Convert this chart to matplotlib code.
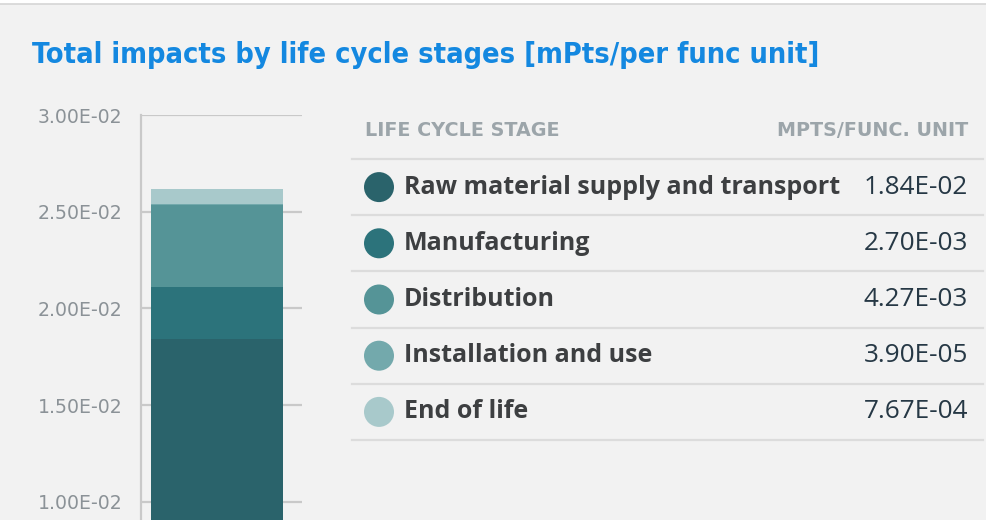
import matplotlib
matplotlib.use("Agg")
from matplotlib import pyplot as plt
from matplotlib.patches import Circle, Rectangle
from matplotlib.lines import Line2D

stages = [
    "Raw material supply and transport",
    "Manufacturing",
    "Distribution",
    "Installation and use",
    "End of life",
]
impacts = [1.84e-02, 2.70e-03, 4.27e-03, 3.90e-05, 7.67e-04]
value_labels = ["1.84E-02", "2.70E-03", "4.27E-03", "3.90E-05", "7.67E-04"]
stage_colours = ["#2a636b", "#2c737b", "#559497", "#73a9ac", "#a8c9cb"]
yticks = [1.0e-02, 1.5e-02, 2.0e-02, 2.5e-02, 3.0e-02]

BG = "#f2f2f2"
W, H = 986, 520
SANS = ["Open Sans", "DejaVu Sans"]


def main():
    fig = plt.figure(figsize=(W / 100, H / 100), dpi=100, facecolor=BG)

    # pixel canvas for title, table and frame decorations
    canvas = fig.add_axes([0, 0, 1, 1], zorder=0)
    canvas.set_xlim(0, W)
    canvas.set_ylim(H, 0)
    canvas.axis("off")
    canvas.add_patch(Rectangle((0, 0), W, 4, facecolor="white", edgecolor="none"))
    canvas.add_line(Line2D([0, W], [4, 4], color="#d6d6d6", lw=1.2))

    canvas.text(32, 55, "Total impacts by life cycle stages [mPts/per func unit]",
                family="DejaVu Sans", stretch="condensed", weight="bold",
                fontsize=20.7, color="#1488e0", va="center", ha="left")

    # stacked bar
    ax = fig.add_axes([141 / W, 0, 161 / W, 405 / H], zorder=1)
    ax.set_facecolor("none")
    bottom = 0.0
    for val, col in zip(impacts, stage_colours):
        ax.bar(0, val, bottom=bottom, width=0.82, color=col, edgecolor="none", zorder=2)
        bottom += val
    ax.set_xlim(-0.47, 0.53)
    ax.set_ylim(0.00906, 0.03)
    ax.set_yticks(yticks)
    ax.set_yticklabels(["%.2fE-02" % (t * 100) for t in yticks])
    ax.set_xticks([])
    ax.yaxis.grid(True, color="#c9c9c9", lw=1.6)
    ax.set_axisbelow(True)
    for side in ["top", "right", "bottom"]:
        ax.spines[side].set_visible(False)
    ax.spines["left"].set_color("#c9c9c9")
    ax.spines["left"].set_linewidth(1.6)
    ax.tick_params(axis="y", length=0, pad=13.5, labelsize=13.6, labelcolor="#8b9297")

    # table
    canvas.text(365, 131, "LIFE CYCLE STAGE", family="DejaVu Sans",
                weight="bold", fontsize=13.8, color="#9ca5aa", va="center")
    canvas.text(968, 131, "MPTS/FUNC. UNIT", family="DejaVu Sans",
                weight="bold", fontsize=13.8, color="#9ca5aa", va="center", ha="right")
    row_h = 56.2
    top = 159
    canvas.add_line(Line2D([352, 983], [top, top], color="#dcdcdc", lw=1.6))
    for i, (name, lab, col) in enumerate(zip(stages, value_labels, stage_colours)):
        yc = top + row_h * (i + 0.5)
        canvas.add_patch(Circle((379, yc), 15, facecolor=col, edgecolor="none"))
        canvas.text(404, yc, name, family=SANS, weight="bold",
                    fontsize=18, color="#3d3f41", va="center")
        canvas.text(968, yc, lab, family=SANS,
                    fontsize=18.8, color="#263845", va="center", ha="right")
        yl = top + row_h * (i + 1)
        canvas.add_line(Line2D([352, 983], [yl, yl], color="#dcdcdc", lw=1.6))

    fig.savefig("out.png", dpi=100, facecolor=BG)


if __name__ == "__main__":
    main()
